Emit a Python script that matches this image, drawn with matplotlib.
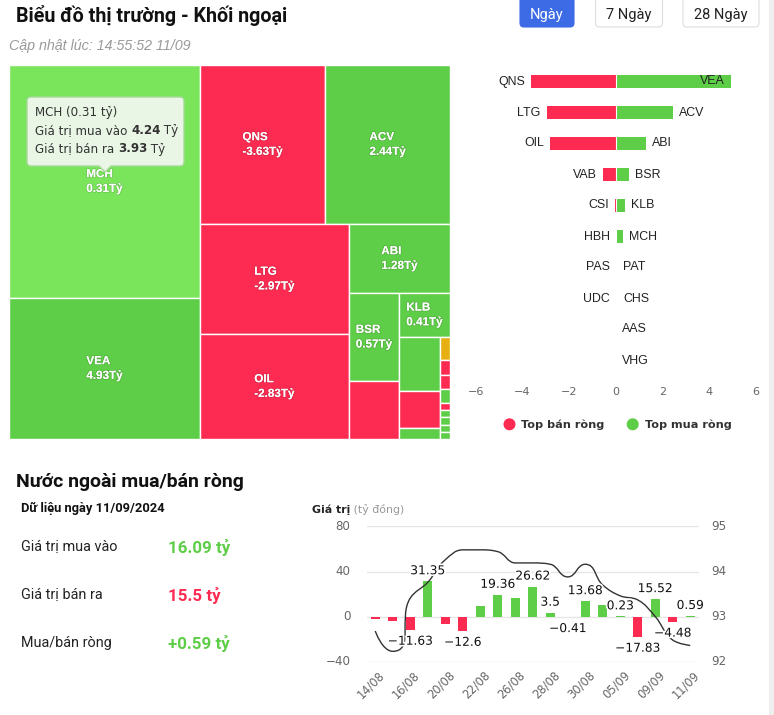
import math
import matplotlib
matplotlib.use("Agg")
import matplotlib.pyplot as plt
from matplotlib.patches import Rectangle, FancyBboxPatch, Circle, PathPatch
from matplotlib.path import Path
import matplotlib.patheffects as pe

# ---------------- data ----------------
# treemap: total traded value (tỷ), net value (tỷ)
tm_names = ["MCH", "VEA", "QNS", "ACV", "LTG", "OIL", "ABI", "BSR", "VAB", "KLB", "PAT",
            "CSI", "CHS", "TOS", "HBH", "PAS", "AAS", "UDC", "VHG", "SIP", "CMF", "VLC"]
tm_total = [8.17, 4.94, 3.66, 3.64, 3.01, 2.87, 1.28, 0.81, 0.53, 0.41, 0.41,
            0.28, 0.08, 0.042, 0.028, 0.026, 0.026, 0.012, 0.013, 0.014, 0.014, 0.012]
tm_net = [0.31, 4.93, -3.63, 2.44, -2.97, -2.83, 1.28, 0.57, -0.53, 0.41, 0.03,
          -0.02, 0.02, 0.0, -0.01, -0.01, 0.005, -0.005, 0.004, 0.003, 0.003, 0.002]
tm_labelled = ["MCH", "VEA", "QNS", "ACV", "LTG", "OIL", "ABI", "BSR", "KLB"]
tm_hover = "MCH"
tip_buy, tip_sell = 4.24, 3.93

# top net sell / buy
sell_names = ["QNS", "LTG", "OIL", "VAB", "CSI", "HBH", "PAS", "UDC"]
sell_vals = [-3.63, -2.97, -2.83, -0.56, -0.02, -0.01, -0.01, -0.01]
buy_names = ["VEA", "ACV", "ABI", "BSR", "KLB", "MCH", "PAT", "CHS", "AAS", "VHG"]
buy_vals = [4.93, 2.44, 1.28, 0.57, 0.41, 0.31, 0.06, 0.06, 0.0, 0.0]
hb_ticks = [-6, -4, -2, 0, 2, 4, 6]

# daily net flow
dates = ["14/08", "15/08", "16/08", "19/08", "20/08", "21/08", "22/08", "23/08", "26/08", "27/08",
         "28/08", "29/08", "30/08", "04/09", "05/09", "06/09", "09/09", "10/09", "11/09"]
net_flow = [-2.4, -3.6, -11.63, 31.35, -6.8, -12.6, 9.5, 19.36, 16.9, 26.62,
            3.5, -0.41, 13.68, 10.4, 0.23, -17.83, 15.52, -4.48, 0.59]
flow_labelled = [2, 3, 5, 7, 9, 10, 11, 12, 14, 15, 16, 17, 18]
index_line = [92.68, 92.23, 93.41, 93.76, 94.26, 94.48, 94.48, 94.44, 94.19, 94.19,
              94.16, 93.88, 94.16, 93.70, 93.46, 93.37, 93.0, 92.48, 92.36]
left_ticks = [-40, 0, 40, 80]
right_ticks = [92, 93, 94, 95]

buy_total, sell_total, net_total = "16.09 tỷ", "15.5 tỷ", "+0.59 tỷ"

# ---------------- style ----------------
GREEN = "#5ecd47"
GREEN_HOVER = "#7ae55b"
RED = "#fd2b51"
ORANGE = "#e6b012"
BLUE = "#3d6be6"
MINUS = "\u2212"

W, H = 774, 715
fig = plt.figure(figsize=(W / 100, H / 100), dpi=100)
fig.patch.set_facecolor("white")


def px_rect(x0, y0, x1, y1):
    return [x0 / W, 1 - y1 / H, (x1 - x0) / W, (y1 - y0) / H]


def fmt(v):
    s = f"{v:g}"
    return s.replace("-", MINUS)


# ---------------- treemap ----------------
def squarify_alt(values, x, y, w, h):
    total = float(sum(values))
    areas = [v / total * w * h for v in values]
    rects = []
    direction = 0
    i, n = 0, len(areas)

    def ratio(a, b):
        return max(a / b, b / a)

    while i < n:
        row = [areas[i]]
        j = i + 1
        while j < n:
            L = h if direction == 0 else w
            prev = row[-1]
            t_old = sum(row) / L
            t_new = (sum(row) + areas[j]) / L
            if ratio(t_new, prev / t_new) > ratio(t_old, prev / t_old) and j < n - 1:
                break
            row.append(areas[j])
            j += 1
        L = h if direction == 0 else w
        t = sum(row) / L
        if direction == 0:
            yy = y
            for a in row:
                rects.append((x, yy, t, a / t))
                yy += a / t
            x += t
            w -= t
        else:
            xx = x
            for a in row:
                rects.append((xx, y, a / t, t))
                xx += a / t
            y += t
            h -= t
        direction = 1 - direction
        i = j
    return rects


TX0, TY0, TX1, TY1 = 9, 65, 450, 439
tm = fig.add_axes(px_rect(TX0, TY0, TX1, TY1))
tm.set_xlim(0, TX1 - TX0)
tm.set_ylim(TY1 - TY0, 0)
tm.axis("off")
rects = squarify_alt(tm_total, 0, 0, TX1 - TX0, TY1 - TY0)
for name, net, (rx, ry, rw, rh) in zip(tm_names, tm_net, rects):
    if name == tm_hover:
        col = GREEN_HOVER
    elif net > 0:
        col = GREEN
    elif net < 0:
        col = RED
    else:
        col = ORANGE
    tm.add_patch(Rectangle((rx, ry), rw, rh, facecolor=col, edgecolor="white", lw=1.0))
    if name in tm_labelled:
        tm.text(rx + rw / 2, ry + rh / 2, f"{name}\n{net:.2f}Tỷ", ha="center", va="center",
                multialignment="left", color="white", fontsize=8.4, fontweight="bold",
                family="Liberation Sans", linespacing=1.3,
                path_effects=[pe.withStroke(linewidth=1.2, foreground=(0, 0, 0, 0.12))])

# ---------------- top net sell/buy bars ----------------
hb = fig.add_axes(px_rect(476, 66, 755.5, 376))
hb.set_xlim(-6, 6)
hb.set_ylim(len(buy_names) - 0.5, -0.5)
hb.axis("off")
hb.patch.set_alpha(0)
hb.barh(range(len(sell_vals)), sell_vals, height=0.44, color=RED, edgecolor="none")
hb.barh(range(len(buy_vals)), buy_vals, height=0.44, color=GREEN, edgecolor="none")
hb.axvline(0, color="white", lw=0.8, zorder=3)
for i, (nm, v) in enumerate(zip(sell_names, sell_vals)):
    hb.annotate(nm, xy=(v, i), xytext=(-6, 0), textcoords="offset pixels", ha="right", va="center",
                fontsize=8.9, color="#222222", family="Liberation Sans")
for i, (nm, v) in enumerate(zip(buy_names, buy_vals)):
    inside = v + 1.4 > hb.get_xlim()[1]
    hb.annotate(nm, xy=(v, i), xytext=(-6 if inside else 6, 0), textcoords="offset pixels",
                ha="right" if inside else "left", va="center",
                fontsize=8.9, color="#222222", family="Liberation Sans")
for t in hb_ticks:
    hb.annotate(fmt(t), xy=(t, 0), xycoords=hb.get_xaxis_transform(), xytext=(0, -16),
                textcoords="offset pixels", ha="center", va="center", fontsize=8, color="#666666")

# ---------------- daily flow chart ----------------
ax = fig.add_axes(px_rect(366.5, 526.4, 699.0, 661.7))
ax.set_xlim(-0.5, len(dates) - 0.5)
ax.set_ylim(left_ticks[0], left_ticks[-1])
ax.axis("off")
ax.patch.set_alpha(0)
for g in left_ticks:
    ax.axhline(g, color="#e6e6e6", lw=1, zorder=0)
cols = [GREEN if v >= 0 else RED for v in net_flow]
ax.bar(range(len(net_flow)), net_flow, width=0.52, color=cols, zorder=2)
for g in left_ticks:
    ax.annotate(fmt(g), xy=(0, g), xycoords=ax.get_yaxis_transform(), xytext=(-16, 0),
                textcoords="offset pixels", ha="right", va="center", fontsize=8.6, color="#666666")
for i in range(0, len(dates), 2):
    ax.annotate(dates[i], xy=(i, 0), xycoords=ax.get_xaxis_transform(), xytext=(3, -7),
                textcoords="offset pixels", ha="right", va="top", rotation=45,
                rotation_mode="anchor", fontsize=8.3, color="#666666")

ax2 = ax.twinx()
ax2.set_position(ax.get_position())
ax2.set_ylim(right_ticks[0], right_ticks[-1])
ax2.axis("off")
ax2.patch.set_alpha(0)
for g in right_ticks:
    ax2.annotate(str(g), xy=(1, g), xycoords=ax2.get_yaxis_transform(), xytext=(12, 0),
                 textcoords="offset pixels", ha="left", va="center", fontsize=8.6, color="#666666")


def hc_spline(xp, yp, smoothing=1.5):
    n = len(xp)
    lc = [None] * n
    rc = [None] * n
    d = smoothing + 1
    for i in range(1, n - 1):
        px, py = xp[i], yp[i]
        lx, ly = xp[i - 1], yp[i - 1]
        nx, ny = xp[i + 1], yp[i + 1]
        lcx = (smoothing * px + lx) / d
        lcy = (smoothing * py + ly) / d
        rcx = (smoothing * px + nx) / d
        rcy = (smoothing * py + ny) / d
        dl = math.hypot(lcx - px, lcy - py)
        dr = math.hypot(rcx - px, rcy - py)
        la = math.atan2(lcy - py, lcx - px)
        ra = math.atan2(rcy - py, rcx - px)
        corr = math.pi / 2 + (la + ra) / 2
        if abs(la - corr) > math.pi / 2:
            corr -= math.pi
        lcx = px + math.cos(corr) * dl
        lcy = py + math.sin(corr) * dl
        rcx = px + math.cos(math.pi + corr) * dr
        rcy = py + math.sin(math.pi + corr) * dr
        if rcy > py and rcy > ny:
            rcy = max(py, ny)
            lcy = 2 * py - rcy
        elif rcy < py and rcy < ny:
            rcy = min(py, ny)
            lcy = 2 * py - rcy
        if lcy > ly and lcy > py:
            lcy = max(ly, py)
            rcy = 2 * py - lcy
        elif lcy < ly and lcy < py:
            lcy = min(ly, py)
            rcy = 2 * py - lcy
        lc[i] = (lcx, lcy)
        rc[i] = (rcx, rcy)
    verts = [(xp[0], yp[0])]
    codes = [Path.MOVETO]
    for i in range(1, n):
        c1 = rc[i - 1] if rc[i - 1] is not None else (xp[i - 1], yp[i - 1])
        c2 = lc[i] if lc[i] is not None else (xp[i], yp[i])
        verts += [c1, c2, (xp[i], yp[i])]
        codes += [Path.CURVE4] * 3
    return verts, codes


disp = ax2.transData.transform(list(zip(range(len(index_line)), index_line)))
v_disp, c_disp = hc_spline(list(disp[:, 0]), list(disp[:, 1]))
v_data = ax2.transData.inverted().transform(v_disp)
ax2.add_patch(PathPatch(Path(v_data, c_disp), facecolor="none", edgecolor="#333333", lw=1.0, zorder=3))

for i in flow_labelled:
    v = net_flow[i]
    ax2.annotate(fmt(v), xy=(i, v), xycoords=ax.transData,
                 xytext=(0, 4 if v >= 0 else -5), textcoords="offset pixels",
                 ha="center", va="bottom" if v >= 0 else "top", fontsize=8.8, color="#111111",
                 zorder=5, path_effects=[pe.withStroke(linewidth=2.5, foreground="white")])

# ---------------- overlay: page texts ----------------
ov = fig.add_axes([0, 0, 1, 1])
ov.set_xlim(0, W)
ov.set_ylim(H, 0)
ov.axis("off")
ov.patch.set_alpha(0)
ov.set_zorder(10)

ov.add_patch(Rectangle((769, 0), 5, H, facecolor="#efefef", edgecolor="none"))

ov.text(16, 15, "Biểu đồ thị trường - Khối ngoại", ha="left", va="center", fontsize=14.2,
        fontweight="bold", family="Roboto", color="#111111")
ov.text(9, 46, "Cập nhật lúc: 14:55:52 11/09", ha="left", va="center", fontsize=10.3,
        style="italic", family="Liberation Sans", color="#9a9a9a")

buttons = [("Ngày", 520, 574, True), ("7 Ngày", 595.5, 662.5, False), ("28 Ngày", 683, 759, False)]
for label, x0, x1, active in buttons:
    ov.add_patch(FancyBboxPatch((x0, -6), x1 - x0, 33, boxstyle="round,pad=0,rounding_size=4",
                                facecolor=BLUE if active else "white",
                                edgecolor=BLUE if active else "#dedede", lw=0.8))
    ov.text((x0 + x1) / 2, 14.5, label, ha="center", va="center", fontsize=10.5,
            family="Roboto", color="white" if active else "#222222")

# tooltip
bx0, by0, bx1, by1, r = 27, 97, 184, 166, 4
tipx = 105
verts = [(bx0 + r, by0), (bx1 - r, by0), (bx1, by0), (bx1, by0 + r), (bx1, by1 - r), (bx1, by1),
         (bx1 - r, by1), (tipx + 6, by1), (tipx, by1 + 6), (tipx - 6, by1), (bx0 + r, by1),
         (bx0, by1), (bx0, by1 - r), (bx0, by0 + r), (bx0, by0), (bx0 + r, by0)]
codes = [Path.MOVETO, Path.LINETO, Path.CURVE3, Path.CURVE3, Path.LINETO, Path.CURVE3, Path.CURVE3,
         Path.LINETO, Path.LINETO, Path.LINETO, Path.LINETO, Path.CURVE3, Path.CURVE3, Path.LINETO,
         Path.CURVE3, Path.CURVE3]
ov.add_patch(PathPatch(Path(verts, codes), facecolor=(0.965, 0.975, 0.96, 0.9),
                       edgecolor="#a6d99a", lw=1.0))
hov_net = tm_net[tm_names.index(tm_hover)]
ov.text(35, 112.7, f"{tm_hover} ({hov_net:.2f} tỷ)", ha="left", va="center", fontsize=8.6, color="#333333")


def mixed_line(x, y, parts, colors=None, **kw):
    prev = None
    for k, (txt, bold) in enumerate(parts):
        w = "bold" if bold else "normal"
        c = colors[k] if colors else "#333333"
        if prev is None:
            prev = ov.text(x, y, txt, ha="left", va="center", fontweight=w, color=c, **kw)
        else:
            prev = ov.annotate(txt, xy=(1, 0), xycoords=prev, ha="left", va="bottom",
                               fontweight=w, color=c, **kw)
    return prev


mixed_line(35, 130.7, [("Giá trị mua vào ", False), (f"{tip_buy:.2f}", True), (" Tỷ", False)],
           fontsize=8.6)
mixed_line(35, 149, [("Giá trị bán ra ", False), (f"{tip_sell:.2f}", True), (" Tỷ", False)],
           fontsize=8.6)

# legend for bar chart
ov.add_patch(Circle((509.5, 424.3), 6, facecolor=RED, edgecolor="none"))
ov.text(521, 424.3, "Top bán ròng", ha="left", va="center", fontsize=8.1, fontweight="bold", color="#333333")
ov.add_patch(Circle((632.7, 424.3), 6, facecolor=GREEN, edgecolor="none"))
ov.text(645, 424.3, "Top mua ròng", ha="left", va="center", fontsize=8.1, fontweight="bold", color="#333333")

# bottom-left panel
ov.text(16, 482, "Nước ngoài mua/bán ròng", ha="left", va="center", fontsize=14.0,
        fontweight="bold", family="Roboto", color="#111111")
ov.text(21, 508, "Dữ liệu ngày 11/09/2024", ha="left", va="center", fontsize=9.3,
        fontweight="bold", family="Roboto", color="#111111")
rows = [("Giá trị mua vào", buy_total, GREEN, 547), ("Giá trị bán ra", sell_total, RED, 595),
        ("Mua/bán ròng", net_total, GREEN, 643)]
for lab, val, col, yy in rows:
    ov.text(21, yy, lab, ha="left", va="center", fontsize=10.4, family="Roboto", color="#222222")
    ov.text(168, yy, val, ha="left", va="center", fontsize=12.2, fontweight="bold",
            family="Roboto", color=col)

# bottom chart title
mixed_line(311.5, 510, [("Giá trị", True), (" (tỷ đồng)", False)], colors=["#222222", "#999999"],
           fontsize=7.9)

fig.savefig("out.png", dpi=100, facecolor="white")
